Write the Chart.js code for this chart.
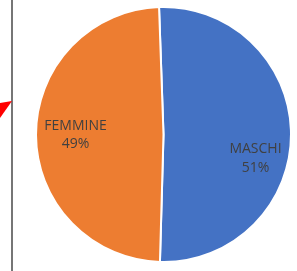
<!DOCTYPE html>
<html>
<head>
<meta charset="utf-8">
<script src="https://cdn.jsdelivr.net/npm/chart.js@4/dist/chart.umd.min.js"></script>
<style>
    html, body { margin: 0; padding: 0; background: #ffffff; }
    #wrap { position: relative; width: 297px; height: 271px; overflow: hidden; }
    #pieChart { position: absolute; left: 0; top: 0; }
    #frameLine { position: absolute; left: 11px; top: 0; width: 2px; height: 271px; background: #767676; }
    #arrow { position: absolute; left: 0; top: 0; }
</style>
</head>
<body>
<div id="wrap">
    <canvas id="pieChart" width="297" height="271"></canvas>
    <div id="frameLine"></div>
    <svg id="arrow" width="20" height="130">
        <polygon points="12,101 0,103 0,118" fill="#ff0000"></polygon>
    </svg>
</div>
<script>
const categories = ['MASCHI', 'FEMMINE'];
const shares = [51, 49];
const sliceColors = ['#4472C4', '#ED7D31'];

// Excel nudged the MASCHI label down and right a bit
const labelShiftX = [4, 0];
const labelShiftY = [24, 0];

const sliceLabels = {
    id: 'sliceLabels',
    afterDatasetsDraw(chart) {
        const ctx = chart.ctx;
        const meta = chart.getDatasetMeta(0);
        const total = shares.reduce((a, b) => a + b, 0);
        ctx.save();
        ctx.font = "14px 'Open Sans', sans-serif";
        ctx.fillStyle = '#404040';
        ctx.textAlign = 'center';
        ctx.textBaseline = 'middle';
        meta.data.forEach((arc, i) => {
            const mid = (arc.startAngle + arc.endAngle) / 2;
            const r = arc.outerRadius * 0.69;
            const x = arc.x + Math.cos(mid) * r + labelShiftX[i];
            const y = arc.y + Math.sin(mid) * r + labelShiftY[i];
            const pct = Math.round(shares[i] / total * 100) + '%';
            ctx.fillText(categories[i], x, y - 9);
            ctx.fillText(pct, x, y + 9.5);
        });
        ctx.restore();
    }
};

const ctxPie = document.getElementById('pieChart').getContext('2d');
new Chart(ctxPie, {
    type: 'pie',
    data: {
        labels: categories,
        datasets: [{
            data: shares,
            backgroundColor: sliceColors,
            borderColor: '#ffffff',
            borderWidth: 2
        }]
    },
    options: {
        responsive: false,
        animation: false,
        rotation: -2,
        layout: {
            padding: { left: 35, right: 5, top: 6, bottom: 8 }
        },
        plugins: {
            legend: { display: false },
            tooltip: { enabled: false }
        }
    },
    plugins: [sliceLabels]
});
</script>
</body>
</html>
